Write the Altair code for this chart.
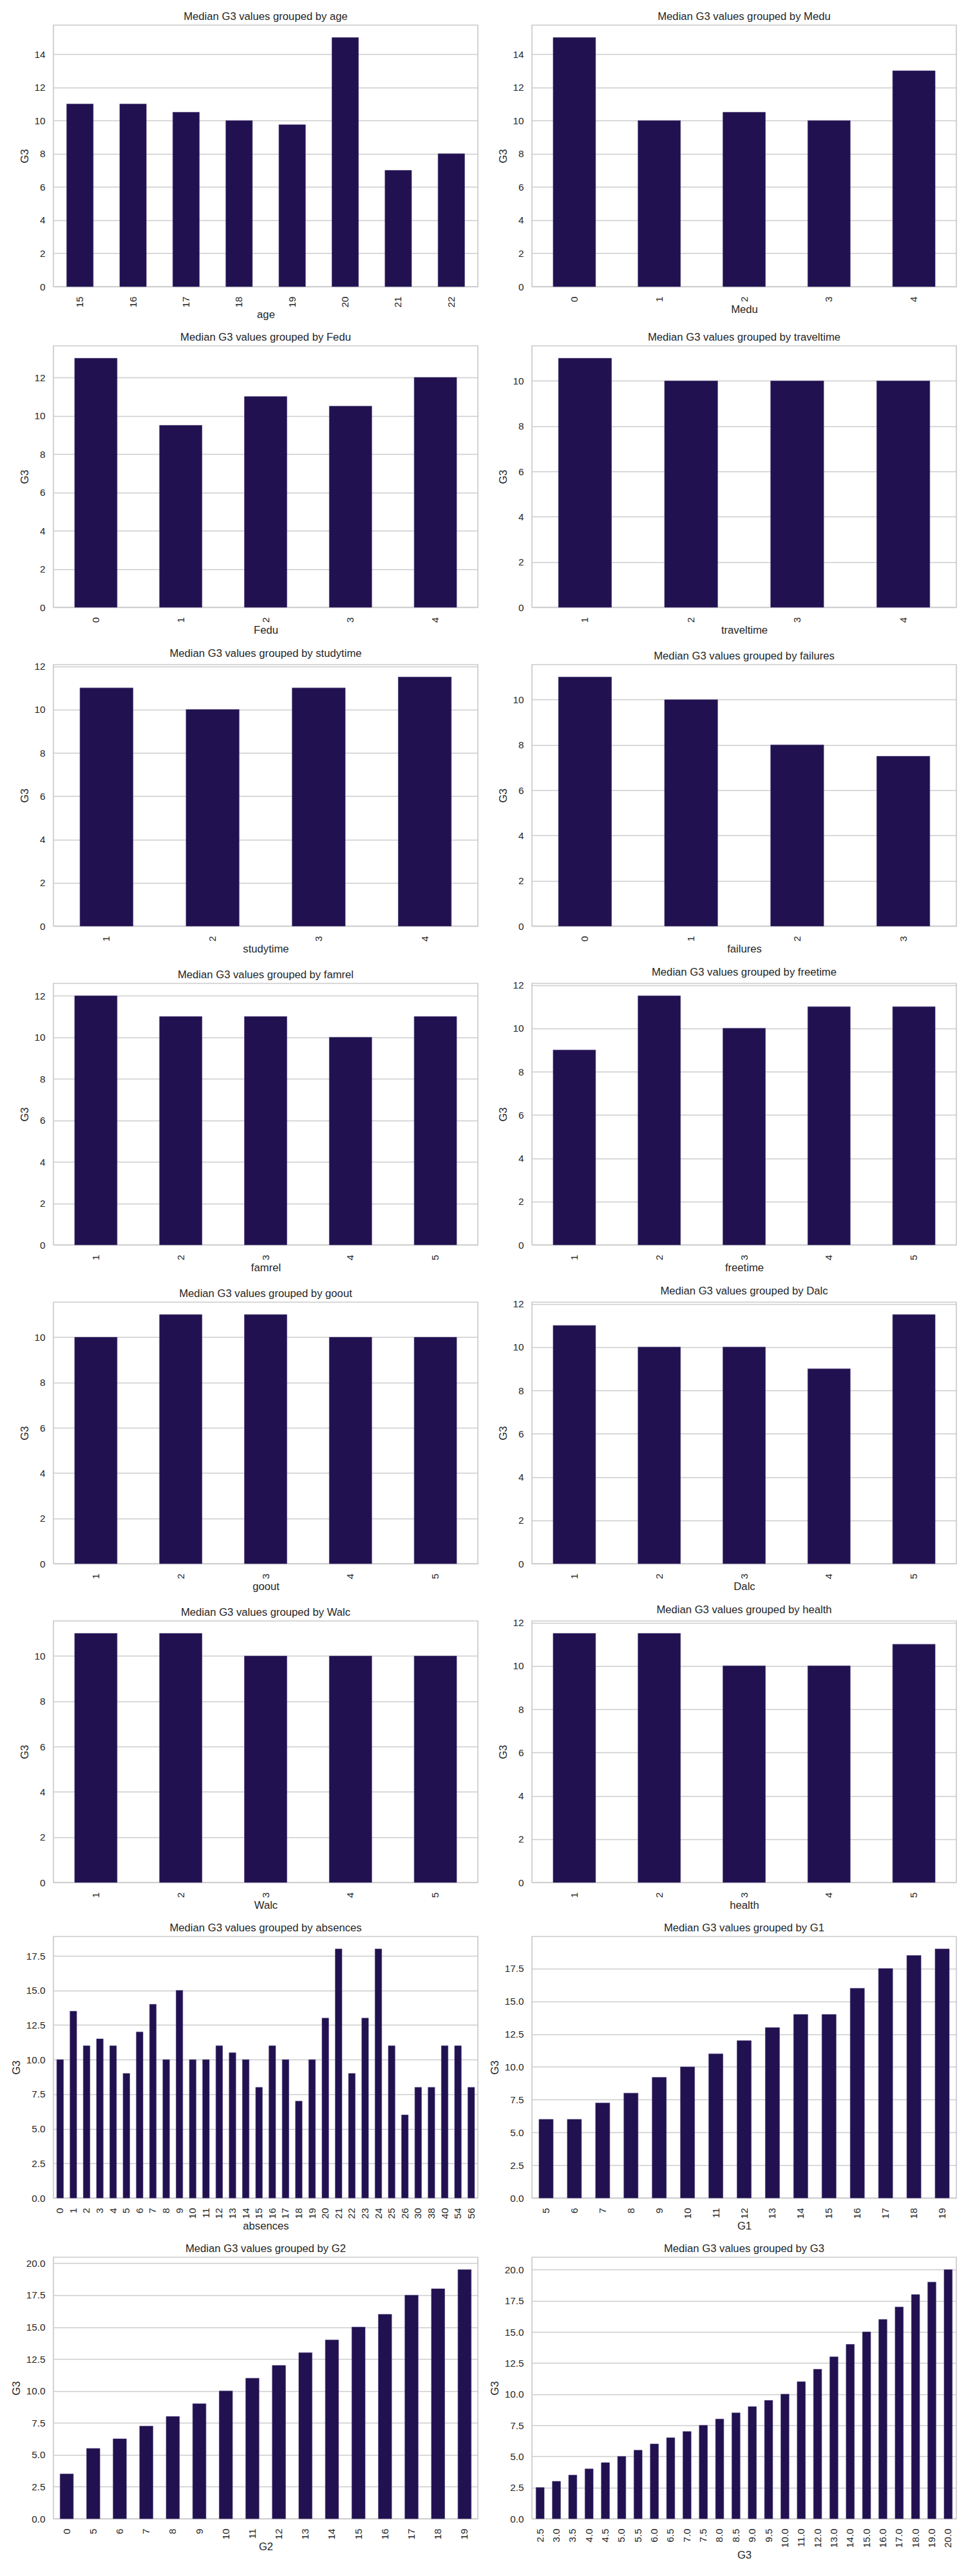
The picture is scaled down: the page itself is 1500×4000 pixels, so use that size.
import altair as alt
import pandas as pd

TITLE_FMT = "Median G3 values grouped by {}"
BAR_COLOR = "#221150"
TEXT = "#262626"
FONT = "Liberation Sans"

# ---- data ----
age_cats = ["15", "16", "17", "18", "19", "20", "21", "22"]
age_vals = [11, 11, 10.5, 10, 9.75, 15, 7, 8]

medu_cats = ["0", "1", "2", "3", "4"]
medu_vals = [15, 10, 10.5, 10, 13]

fedu_cats = ["0", "1", "2", "3", "4"]
fedu_vals = [13, 9.5, 11, 10.5, 12]

traveltime_cats = ["1", "2", "3", "4"]
traveltime_vals = [11, 10, 10, 10]

studytime_cats = ["1", "2", "3", "4"]
studytime_vals = [11, 10, 11, 11.5]

failures_cats = ["0", "1", "2", "3"]
failures_vals = [11, 10, 8, 7.5]

famrel_cats = ["1", "2", "3", "4", "5"]
famrel_vals = [12, 11, 11, 10, 11]

freetime_cats = ["1", "2", "3", "4", "5"]
freetime_vals = [9, 11.5, 10, 11, 11]

goout_cats = ["1", "2", "3", "4", "5"]
goout_vals = [10, 11, 11, 10, 10]

dalc_cats = ["1", "2", "3", "4", "5"]
dalc_vals = [11, 10, 10, 9, 11.5]

walc_cats = ["1", "2", "3", "4", "5"]
walc_vals = [11, 11, 10, 10, 10]

health_cats = ["1", "2", "3", "4", "5"]
health_vals = [11.5, 11.5, 10, 10, 11]

absences_cats = ["0", "1", "2", "3", "4", "5", "6", "7", "8", "9", "10", "11",
                 "12", "13", "14", "15", "16", "17", "18", "19", "20", "21",
                 "22", "23", "24", "25", "26", "30", "38", "40", "54", "56"]
absences_vals = [10, 13.5, 11, 11.5, 11, 9, 12, 14, 10, 15, 10, 10,
                 11, 10.5, 10, 8, 11, 10, 7, 10, 13, 18,
                 9, 13, 18, 11, 6, 8, 8, 11, 11, 8]

g1_cats = ["5", "6", "7", "8", "9", "10", "11", "12", "13", "14", "15", "16",
           "17", "18", "19"]
g1_vals = [6, 6, 7.25, 8, 9.2, 10, 11, 12, 13, 14, 14, 16, 17.5, 18.5, 19]

g2_cats = ["0", "5", "6", "7", "8", "9", "10", "11", "12", "13", "14", "15",
           "16", "17", "18", "19"]
g2_vals = [3.5, 5.5, 6.25, 7.25, 8, 9, 10, 11, 12, 13, 14, 15, 16, 17.5, 18, 19.5]

g3_cats = ["2.5", "3.0", "3.5", "4.0", "4.5", "5.0", "5.5", "6.0", "6.5", "7.0",
           "7.5", "8.0", "8.5", "9.0", "9.5", "10.0", "11.0", "12.0", "13.0",
           "14.0", "15.0", "16.0", "17.0", "18.0", "19.0", "20.0"]
g3_vals = [2.5, 3.0, 3.5, 4.0, 4.5, 5.0, 5.5, 6.0, 6.5, 7.0,
           7.5, 8.0, 8.5, 9.0, 9.5, 10.0, 11.0, 12.0, 13.0,
           14.0, 15.0, 16.0, 17.0, 18.0, 19.0, 20.0]

ticks_2_14 = [0, 2, 4, 6, 8, 10, 12, 14]
ticks_2_12 = [0, 2, 4, 6, 8, 10, 12]
ticks_2_10 = [0, 2, 4, 6, 8, 10]
ticks_25_175 = [0, 2.5, 5, 7.5, 10, 12.5, 15, 17.5]
ticks_25_20 = [0, 2.5, 5, 7.5, 10, 12.5, 15, 17.5, 20]

panels = [
    ("age", age_cats, age_vals, ticks_2_14, "d"),
    ("Medu", medu_cats, medu_vals, ticks_2_14, "d"),
    ("Fedu", fedu_cats, fedu_vals, ticks_2_12, "d"),
    ("traveltime", traveltime_cats, traveltime_vals, ticks_2_10, "d"),
    ("studytime", studytime_cats, studytime_vals, ticks_2_12, "d"),
    ("failures", failures_cats, failures_vals, ticks_2_10, "d"),
    ("famrel", famrel_cats, famrel_vals, ticks_2_12, "d"),
    ("freetime", freetime_cats, freetime_vals, ticks_2_12, "d"),
    ("goout", goout_cats, goout_vals, ticks_2_10, "d"),
    ("Dalc", dalc_cats, dalc_vals, ticks_2_12, "d"),
    ("Walc", walc_cats, walc_vals, ticks_2_10, "d"),
    ("health", health_cats, health_vals, ticks_2_12, "d"),
    ("absences", absences_cats, absences_vals, ticks_25_175, ".1f"),
    ("G1", g1_cats, g1_vals, ticks_25_175, ".1f"),
    ("G2", g2_cats, g2_vals, ticks_25_20, ".1f"),
    ("G3", g3_cats, g3_vals, ticks_25_20, ".1f"),
]


def make_panel(name, cats, vals, ticks, fmt):
    df = pd.DataFrame({"cat": cats, "G3": vals})
    ymax = max(vals) * 1.05
    return (
        alt.Chart(df, title=alt.TitleParams(TITLE_FMT.format(name)))
        .mark_bar(color=BAR_COLOR, stroke="#3a2d6c", strokeWidth=0.6)
        .encode(
            x=alt.X(
                "cat:N",
                sort=cats,
                title=name,
                scale=alt.Scale(paddingInner=0.5, paddingOuter=0.25),
                axis=alt.Axis(labelAngle=270, labelPadding=15, titlePadding=4),
            ),
            y=alt.Y(
                "G3:Q",
                title="G3",
                scale=alt.Scale(domain=[0, ymax], nice=False, zero=True),
                axis=alt.Axis(values=ticks, format=fmt, labelPadding=13, titlePadding=6),
            ),
        )
        .properties(width=659, height=406)
    )


charts = [make_panel(*p) for p in panels]

chart = (
    alt.concat(*charts, columns=2, spacing={"row": 16, "column": 16})
    .properties(padding={"left": 16, "top": 17, "right": 5, "bottom": 5},
                background="white")
    .configure_axis(
        labelFont=FONT,
        titleFont=FONT,
        labelColor=TEXT,
        titleColor=TEXT,
        labelFontSize=15.28,
        titleFontSize=16.67,
        titleFontWeight="normal",
        gridColor="#cccccc",
        gridWidth=1.39,
        ticks=False,
        domain=False,
        bandPosition=0.5,
    )
    .configure_view(stroke="#cccccc", strokeWidth=1.74)
    .configure_title(
        font=FONT,
        fontSize=16.67,
        fontWeight="normal",
        color=TEXT,
        offset=4,
        anchor="middle",
    )
)

chart.save("out.html", embed_options={"renderer": "svg", "actions": False})
